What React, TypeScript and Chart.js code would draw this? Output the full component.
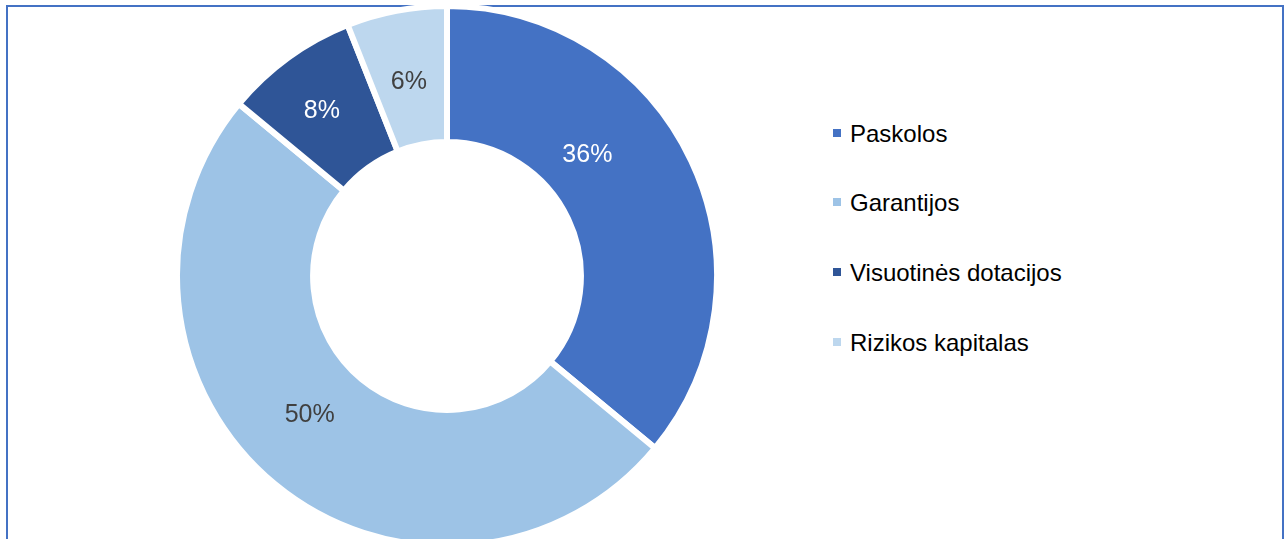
import React, { useEffect, useRef } from "react";
import { Chart, registerables } from "chart.js";

Chart.register(...registerables);

const categories = ["Paskolos", "Garantijos", "Visuotinės dotacijos", "Rizikos kapitalas"];
const values = [36, 50, 8, 6];
const valueLabels = ["36%", "50%", "8%", "6%"];
const colors = ["#4472C4", "#9DC3E6", "#2F5597", "#BDD7EE"];
const labelColors = ["#FFFFFF", "#404040", "#FFFFFF", "#404040"];
// where each label sits inside its slice: fraction along the angle, fraction across the ring
const labelAngleFrac = [0.377, 0.53, 0.47, 0.49];
const labelRadiusFrac = [0.38, 0.44, 0.55, 0.48];

const FONT = '"Liberation Sans", Arial, sans-serif';

const labelPlugin = {
  id: "sliceLabels",
  afterDatasetsDraw(chart: any) {
    const meta = chart.getDatasetMeta(0);
    const ctx = chart.ctx;
    ctx.save();
    const size = 25;
    ctx.font = `${size}px ${FONT}`;
    ctx.textAlign = "center";
    ctx.textBaseline = "alphabetic";
    meta.data.forEach((arc: any, i: number) => {
      const p = arc.getProps(["x", "y", "startAngle", "endAngle", "innerRadius", "outerRadius"], true);
      const a = p.startAngle + (p.endAngle - p.startAngle) * labelAngleFrac[i];
      const inner = p.innerRadius + 3;
      const outer = p.outerRadius - 3;
      const r = inner + (outer - inner) * labelRadiusFrac[i];
      ctx.fillStyle = labelColors[i];
      ctx.fillText(valueLabels[i], p.x + Math.cos(a) * r, p.y + Math.sin(a) * r + size * 0.358);
    });
    ctx.restore();
  },
};

export default function App() {
  const canvasRef = useRef<HTMLCanvasElement | null>(null);

  useEffect(() => {
    if (!canvasRef.current) return;
    const chart = new Chart(canvasRef.current, {
      type: "doughnut",
      data: {
        labels: categories,
        datasets: [
          {
            data: values,
            backgroundColor: colors,
            borderColor: "#FFFFFF",
            borderWidth: 6,
            hoverOffset: 0,
            hoverBorderWidth: 6,
          },
        ],
      },
      options: {
        responsive: false,
        maintainAspectRatio: false,
        animation: false,
        cutout: "49.6%",
        layout: { padding: 0 },
        plugins: {
          legend: { display: false },
          tooltip: { enabled: false },
        },
        events: [],
      },
      plugins: [labelPlugin],
    });
    return () => chart.destroy();
  }, []);

  return (
    <div
      style={{
        position: "absolute",
        left: 0,
        top: 0,
        width: 1285,
        height: 539,
        overflow: "hidden",
        background: "#FFFFFF",
      }}
    >
      <div
        style={{
          position: "absolute",
          left: 6,
          top: 5,
          width: 1274,
          height: 600,
          border: "2px solid #4472C4",
          boxSizing: "content-box",
        }}
      />
      <canvas
        ref={canvasRef}
        width={546}
        height={546}
        style={{ position: "absolute", left: 174, top: 3, width: 546, height: 546 }}
      />
      <div
        style={{
          position: "absolute",
          left: 833,
          top: 98,
          fontFamily: FONT,
          fontSize: 24,
          color: "#000000",
        }}
      >
        {categories.map((c, i) => (
          <div key={c} style={{ height: 69.6, display: "flex", alignItems: "center" }}>
            <span
              style={{
                display: "inline-block",
                width: 8,
                height: 8,
                background: colors[i],
                marginRight: 9,
              }}
            />
            <span style={{ whiteSpace: "nowrap", position: "relative", top: 1 }}>{c}</span>
          </div>
        ))}
      </div>
    </div>
  );
}
